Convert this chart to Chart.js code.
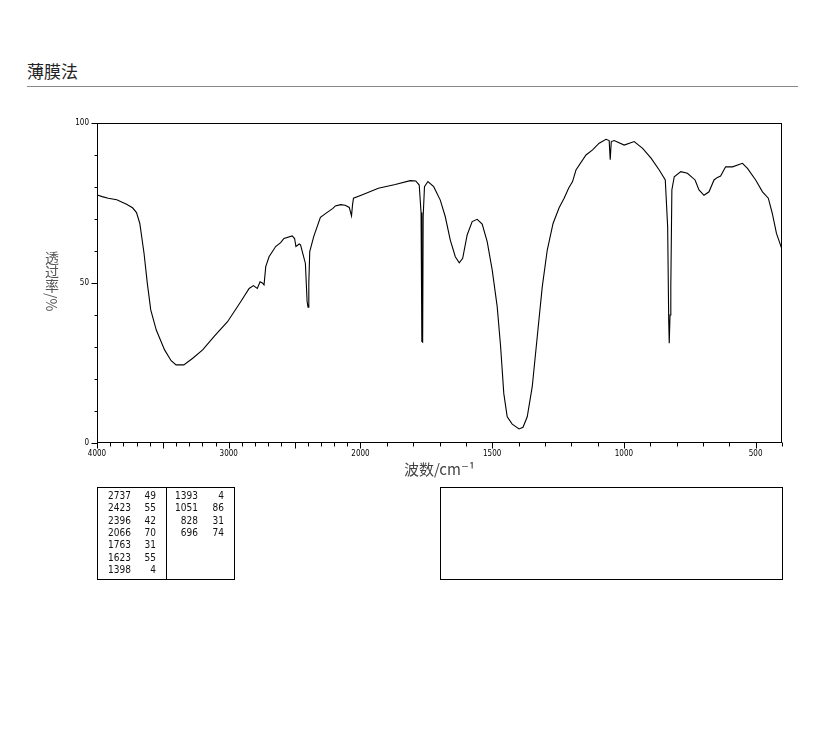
<!DOCTYPE html>
<html>
<head>
<meta charset="utf-8">
<title>薄膜法</title>
<script src="https://cdn.jsdelivr.net/npm/chart.js@4.4.1/dist/chart.umd.min.js"></script>
<style>
  body { margin: 0; background: #fff; width: 822px; height: 737px; position: relative; overflow: hidden; }
  #title { position: absolute; left: 27px; top: 58px; font: 17px "Noto Sans CJK SC", sans-serif; color: #222; }
  #rule { position: absolute; left: 27px; top: 86px; width: 771px; height: 1px; background: #888; }
  #chartBox { position: absolute; left: 0; top: 0; }
  #ytitle { position: absolute; left: 45px; top: 251px; writing-mode: vertical-rl; font: 14px "Noto Sans CJK SC", sans-serif; line-height: 14px; color: #555; }
  .box { position: absolute; border: 1px solid #000; box-sizing: border-box; }
  #peaks { left: 97px; top: 487px; width: 138px; height: 93px; font: 10px "DejaVu Sans Condensed", "DejaVu Sans", sans-serif; color: #111; }
  #peaks .sep { position: absolute; left: 68px; top: 0; bottom: 0; width: 1px; background: #000; }
  #peaks span { position: absolute; text-align: right; line-height: 12px; }
  #blank { left: 440px; top: 487px; width: 343px; height: 93px; }
</style>
</head>
<body>
<div id="title">薄膜法</div>
<div id="rule"></div>
<div id="chartBox"><canvas id="irChart" width="822" height="500"></canvas></div>
<div id="ytitle"></div>
<div id="peaks" class="box"><div class="sep"></div></div>
<div id="blank" class="box"></div>
<script>
// spectrum (wavenumber cm-1, transmittance %)
const wavenumbers = [
  4000, 3960, 3915, 3850, 3776, 3730, 3700, 3675, 3643, 3618, 3592, 3550, 3487, 3437, 3400, 3341,
  3273, 3198, 3109, 3009, 2908, 2845, 2813, 2783, 2762, 2745, 2732, 2719, 2694, 2644, 2606, 2581,
  2518, 2500, 2490, 2465, 2455, 2435, 2418, 2405, 2398, 2392, 2385, 2355, 2304, 2255, 2209, 2191,
  2150, 2116, 2085, 2068, 2060, 2053, 1995, 1932, 1868, 1811, 1790, 1777, 1770, 1767, 1764, 1762,
  1757, 1744, 1722, 1697, 1678, 1659, 1640, 1625, 1612, 1595, 1576, 1557, 1538, 1519, 1500, 1481,
  1468, 1456, 1443, 1424, 1398, 1383, 1367, 1348, 1329, 1310, 1291, 1269, 1246, 1227, 1210, 1195,
  1182, 1144, 1119, 1094, 1068, 1056, 1052, 1048, 1037, 999, 961, 929, 897, 866, 843, 834,
  830, 828, 825, 822, 818, 809, 784, 759, 730, 715, 696, 677, 658, 645, 633, 614,
  588, 550, 531, 500, 474, 452, 437, 421, 400
];
const transmittance = [
  77.5, 77.0, 76.5, 76.0, 74.6, 73.5, 72.0, 68.6, 59.3, 49.9, 41.6, 35.3, 29.1, 25.7, 24.4, 24.4,
  26.5, 29.1, 33.4, 37.9, 44.2, 48.3, 49.2, 48.3, 50.4, 50.0, 49.4, 55.1, 58.2, 61.4, 62.6, 63.9,
  64.7, 63.9, 61.4, 62.2, 61.9, 58.8, 56.1, 44.2, 42.4, 50.0, 59.8, 64.5, 70.5, 72.0, 73.3, 74.1,
  74.5, 74.3, 73.6, 71.0, 74.5, 76.5, 77.5, 79.6, 80.8, 82.0, 81.9, 80.6, 72.0, 31.7, 31.5, 70.7,
  80.1, 81.7, 80.1, 75.9, 70.7, 63.4, 58.2, 56.3, 57.7, 65.0, 69.2, 69.9, 68.4, 62.9, 54.1, 42.6,
  30.1, 15.5, 8.2, 5.9, 4.4, 4.9, 8.2, 17.6, 33.2, 48.8, 60.3, 68.6, 73.5, 76.5, 79.6, 81.7,
  85.3, 90.0, 91.6, 93.7, 94.9, 94.5, 88.5, 94.2, 94.5, 93.1, 94.2, 92.1, 89.0, 85.3, 82.2, 67.6,
  38.4, 31.2, 40.0, 48.8, 79.1, 83.2, 84.8, 84.3, 82.2, 79.1, 77.4, 78.5, 82.2, 83.0, 83.4, 86.3,
  86.3, 87.4, 85.8, 82.2, 78.5, 76.5, 71.8, 65.5, 60.5
];

// peak list
const peakWn = [2737, 2423, 2396, 2066, 1763, 1623, 1398, 1393, 1051, 828, 696];
const peakT  = [49, 55, 42, 70, 31, 55, 4, 4, 86, 31, 74];

// axis labels
const xTickLabels = [4000, 3000, 2000, 1500, 1000, 500];
const yTickLabels = [0, 50, 100];
const xTitle = '波数/cm⁻¹';
const yTitle = '透过率/%';

// 4000-2000 is drawn at half the scale of 2000-400
function toAxis(wn) { return wn >= 2000 ? (4000 - wn) / 2 : 1000 + (2000 - wn); }
function fromAxis(u) { return u <= 1000 ? Math.round(4000 - 2 * u) : Math.round(2000 - (u - 1000)); }

const points = wavenumbers.map((w, i) => ({ x: toAxis(w), y: transmittance[i] }));

const frameTicks = {
  id: 'frameTicks',
  afterDraw(chart) {
    const { ctx, chartArea: a, scales: { x, y } } = chart;
    ctx.save();
    ctx.strokeStyle = '#000';
    ctx.lineWidth = 1;
    const L = Math.round(a.left) + 0.5, R = Math.round(a.right) - 0.5;
    const T = Math.round(a.top) + 0.5, B = Math.round(a.bottom) - 0.5;
    ctx.strokeRect(L, T, R - L, B - T);
    ctx.beginPath();
    x.ticks.forEach(t => {
      const px = Math.round(x.getPixelForValue(t.value)) + 0.5;
      const len = fromAxis(t.value) % 500 === 0 ? 6 : 4;
      ctx.moveTo(px, B); ctx.lineTo(px, B + len);
    });
    y.ticks.forEach(t => {
      const py = Math.round(y.getPixelForValue(t.value)) + 0.5;
      const len = t.value % 50 === 0 ? 6 : 3;
      ctx.moveTo(L, py); ctx.lineTo(L - len, py);
    });
    ctx.stroke();
    ctx.restore();
  }
};

new Chart(document.getElementById('irChart'), {
  type: 'line',
  data: {
    datasets: [{
      data: points,
      borderColor: '#000',
      borderWidth: 1.1,
      pointRadius: 0,
      tension: 0,
      fill: false
    }]
  },
  options: {
    responsive: false,
    animation: false,
    parsing: false,
    layout: { padding: { left: 0, top: 123, right: 40, bottom: 22 } },
    plugins: { legend: { display: false }, tooltip: { enabled: false } },
    scales: {
      x: {
        type: 'linear',
        min: 0,
        max: toAxis(400),
        grid: { display: false, drawTicks: false },
        border: { display: false },
        afterBuildTicks(scale) {
          const t = [];
          for (let w = 4000; w >= 400; w -= 100) t.push({ value: toAxis(w) });
          scale.ticks = t;
        },
        afterFit(scale) { scale.height = 35; },
        ticks: {
          autoSkip: false,
          maxRotation: 0,
          padding: 6,
          color: '#000',
          font: { family: '"DejaVu Sans Condensed", "DejaVu Sans", sans-serif', size: 8 },
          callback(v) {
            const w = fromAxis(v);
            return xTickLabels.includes(w) ? String(w) : '';
          }
        },
        title: {
          display: true,
          text: xTitle,
          color: '#444',
          padding: { top: 4, bottom: 0 },
          font: { family: '"Noto Sans CJK SC", "DejaVu Serif", serif', size: 15 }
        }
      },
      y: {
        min: 0,
        max: 100,
        grid: { display: false, drawTicks: false },
        border: { display: false },
        afterFit(scale) { scale.width = 97; },
        ticks: {
          stepSize: 10,
          autoSkip: false,
          padding: 8,
          color: '#000',
          font: { family: '"DejaVu Sans Condensed", "DejaVu Sans", sans-serif', size: 8 },
          callback(v) { return yTickLabels.includes(v) ? String(v) : ''; }
        }
      }
    }
  },
  plugins: [frameTicks]
});

// vertical y title (CJK upright, as in the original)
document.getElementById('ytitle').textContent = yTitle;

// peak table
const peaksEl = document.getElementById('peaks');
peakWn.forEach((w, i) => {
  const col = i < 7 ? 0 : 1;
  const row = col === 0 ? i : i - 7;
  const top = 2 + row * 12.3;
  const wnRight = col === 0 ? 33 : 100;
  const tRight = col === 0 ? 58 : 126;
  const a = document.createElement('span');
  a.textContent = w;
  a.style.cssText = `left:${wnRight - 30}px;width:30px;top:${top}px`;
  const b = document.createElement('span');
  b.textContent = peakT[i];
  b.style.cssText = `left:${tRight - 20}px;width:20px;top:${top}px`;
  peaksEl.appendChild(a);
  peaksEl.appendChild(b);
});
</script>
</body>
</html>
